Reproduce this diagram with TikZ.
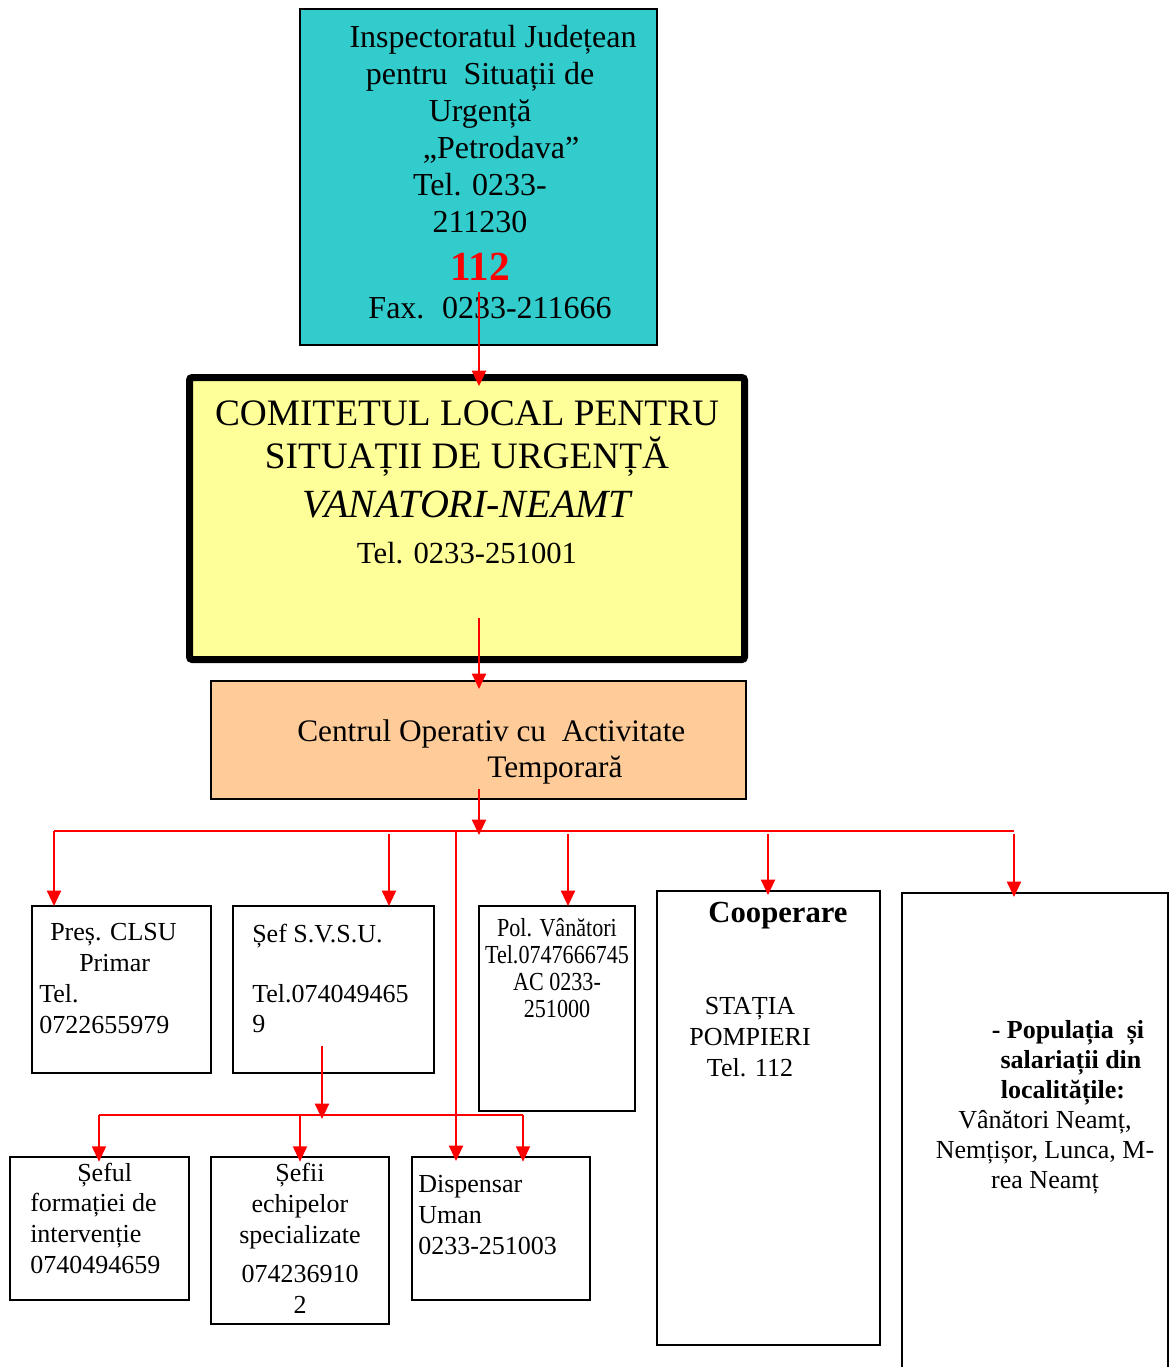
\documentclass[tikz,border=0pt]{standalone}
\usepackage{fontspec}
\setmainfont{Liberation Serif}
\newfontfamily\narrowserif[FakeStretch=0.85]{Liberation Serif}
\usetikzlibrary{arrows.meta,fit}
\newcommand\fsz[2]{\fontsize{#1}{#2}\selectfont}
\definecolor{inspcyan}{RGB}{51,204,204}
\definecolor{clsyellow}{RGB}{255,255,153}
\definecolor{coatpeach}{RGB}{255,204,153}
\begin{document}
\begin{tikzpicture}[x=0.75pt,y=-0.75pt,
    box/.style={draw,line width=1.5pt,inner sep=0pt,outer sep=0pt},
    txt/.style={inner sep=0pt,anchor=base},
    bus/.style={draw=red,line width=1.5pt},
    arr/.style={bus,-{Triangle[width=10.5pt,length=11.5pt]}}]

      \clip (0,0) rectangle (1170,1367);

      % upper boxes (text nodes sit on their last baseline)
      \node [box,fill=inspcyan,fit={(300,9) (657,345)}] (insp) {};
      \node [txt,align=center,font=\fsz{24}{27.75}] (insptxt) at (480,318)
        {\hspace*{19.5pt}Inspectoratul Județean\\ pentru~ Situații de\\ Urgență\\
         \hspace*{31.5pt}„Petrodava”\\ Tel. 0233-\\ 211230\\[8.25pt]
         {\fsz{31}{31}\bfseries\color{red}112}\\[0.75pt]
         \hspace*{15pt}Fax.\hspace{0.55em}0233-211666};

      \node [box,line width=5.25pt,rounded corners=2pt,fill=clsyellow,
        fit={(189.5,377.5) (744.5,659.5)}] (cls) {};
      \node [txt,align=center,font=\fsz{28}{32.25}] (clstxt) at (467,563)
        {COMITETUL LOCAL PENTRU\\ SITUAȚII DE URGENȚĂ\\[4.5pt]
         {\fsz{30}{30}\itshape VANATORI-NEAMT}\\[2.25pt]
         {\fsz{23}{23}Tel. 0233-251001}};

      \node [box,fill=coatpeach,fit={(211,681) (746,799)}] (coat) {};
      \node [txt,anchor=base west,align=left,font=\fsz{23.5}{27}] (coattxt) at (297,777)
        {Centrul Operativ cu~ Activitate\\ \hspace*{142.5pt}Temporară};

      % first row
      \node [box,fit={(32,906) (211,1073)}] (pres) {};
      \node [txt,anchor=base west,align=left,font=\fsz{19.5}{23.25}] (prestxt) at (39,1033)
        {\hspace*{8.25pt}Preș. CLSU\\ \hspace*{30pt}Primar\\ Tel.\\ 0722655979};

      \node [box,fit={(233,906) (434,1073)}] (sefsvsu) {};
      \node [txt,anchor=base west,align=left,font=\fsz{19.5}{22.5}] (sefsvsutxt) at (252,1032)
        {Șef S.V.S.U.\\[22.5pt] Tel.074049465\\ 9};

      \node [box,fit={(479,906) (635,1111)}] (pol) {};
      \node [txt,align=center,font=\narrowserif\fsz{19.5}{20.25}] (poltxt) at (557,1017)
        {Pol. Vânători\\ Tel.0747666745\\ AC 0233-\\ 251000};

      \node [box,fit={(657,891) (880,1345)}] (coop) {};
      \node [txt,align=center,font=\fsz{19.5}{23}] (cooptxt) at (750,1076)
        {\hspace*{42pt}{\fsz{23}{23}\bfseries Cooperare}\\[46pt]
         STAȚIA\\ POMPIERI\\ Tel. 112};

      \node [box,fit={(902,893) (1168,1420)}] (pop) {};
      \node [txt,align=center,font=\fsz{19.5}{22.5}] (poptxt) at (1045,1188)
        {\hspace*{34.5pt}\textbf{- Populația~ și}\\ \hspace*{39pt}\textbf{salariații din}\\
         \hspace*{27pt}\textbf{localitățile:}\\ Vânători Neamț,\\
         Nemțișor, Lunca, M-\\ rea Neamț};

      % second row
      \node [box,fit={(10,1157) (189,1300)}] (seful) {};
      \node [txt,anchor=base west,align=left,font=\fsz{19.5}{22.9}] (sefultxt) at (30,1273)
        {\hspace*{35.25pt}Șeful\\ formației de\\ intervenție\\ 0740494659};

      \node [box,fit={(211,1157) (389,1324)}] (sefii) {};
      \node [txt,align=center,font=\fsz{19.5}{23.25}] (sefiitxt) at (300,1313)
        {Șefii\\ echipelor\\ specializate\\[6pt] 074236910\\ 2};

      \node [box,fit={(412,1157) (590,1300)}] (disp) {};
      \node [txt,anchor=base west,align=left,font=\fsz{19.5}{23}] (disptxt) at (418,1254)
        {Dispensar\\ Uman\\ 0233-251003};

      % red connectors
      \coordinate (s1) at (479,292);
      \coordinate (s2) at (479,618);
      \coordinate (s3) at (479,789);
      \coordinate (busL) at (54,831);
      \coordinate (busR) at (1014,831);
      \coordinate (busD) at (456,831);
      \draw [arr,shorten >=-6.4pt] (s1) -- (s1 |- cls.north);
      \draw [arr,shorten >=-6pt] (s2) -- (s2 |- coat.north);
      \draw [bus] (busL) -- (busR);
      \draw [arr,shorten >=-3pt] (s3) -- (s3 |- busL);
      \draw [arr] (busL) -- (busL |- pres.north);
      \foreach \x/\tgt in {389/sefsvsu,568/pol}
        \draw [arr] (\x,834) -- (\x,834 |- \tgt.north);
      \foreach \x/\tgt in {768/coop,1014/pop}
        \draw [arr,shorten >=-3pt] (\x,834) -- (\x,834 |- \tgt.north);
      \draw [arr,shorten >=-3pt] (busD) -- (busD |- disp.north);

      \coordinate (s4) at (322,1046);
      \coordinate (subL) at (99,1115);
      \coordinate (subM) at (300,1115);
      \coordinate (subR) at (523,1115);
      \draw [bus] (subL) -- (subR);
      \draw [arr,shorten >=-3pt] (s4) -- (s4 |- subL);
      \draw [arr,shorten >=-3.5pt] (subL) -- (subL |- seful.north);
      \draw [arr,shorten >=-3.5pt] (subM) -- (sefii.north);
      \draw [arr,shorten >=-3.5pt] (subR) -- (subR |- disp.north);

    \end{tikzpicture}
\end{document}
